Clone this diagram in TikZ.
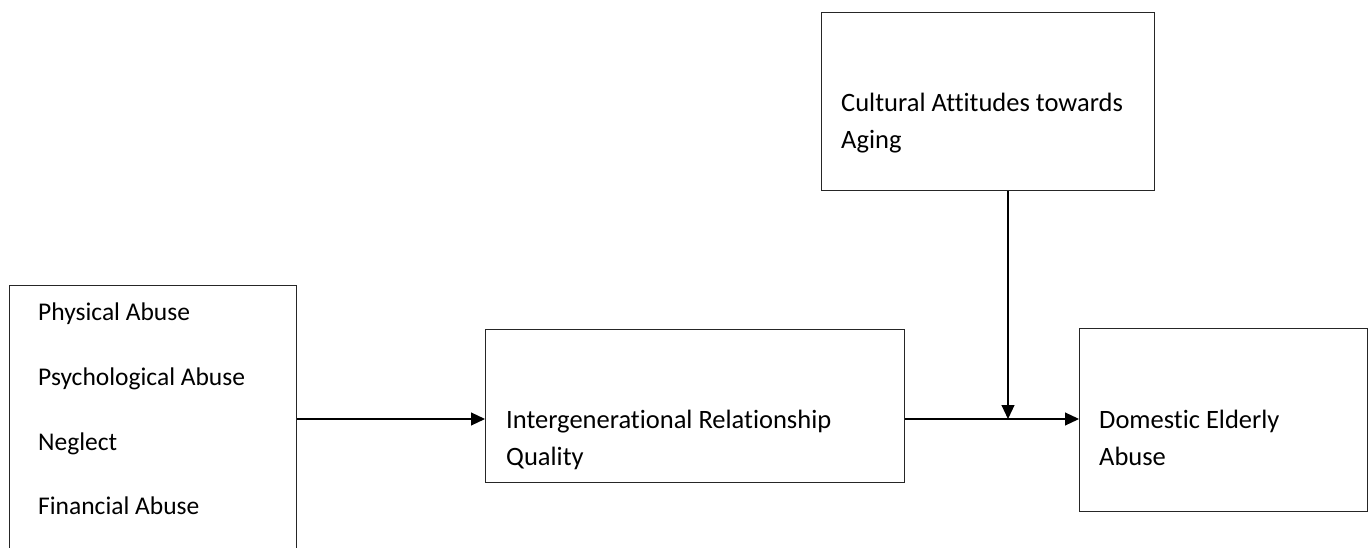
\documentclass[tikz,border=0pt]{standalone}
\usepackage{fontspec}
\setmainfont{Carlito}[Ligatures=NoCommon]
\usetikzlibrary{arrows.meta}
\usetikzlibrary{calc}

\begin{document}
\begin{tikzpicture}[x=1pt,y=-1pt]

\tikzstyle{box} = [draw, line width=1.2, draw=black!85, fill=none, inner sep=0, anchor=north west]
\tikzstyle{txt} = [anchor=base west, inner sep=0, font=\fontsize{26.5}{37}\selectfont, align=left]
\tikzstyle{item} = [txt, font=\fontsize{25.5}{37}\selectfont]
\tikzstyle{arr} = [line width=1.1, -{Triangle[length=14,width=13]}]

\useasboundingbox (0,0) rectangle (1369,548);

% boxes
\node [box, minimum width=287, minimum height=300] (abuse) at (9,285) {};
\node [box, minimum width=419, minimum height=153] (igr) at (485,329) {};
\node [box, minimum width=333, minimum height=178] (cult) at (821,12) {};
\node [box, minimum width=288, minimum height=183] (dea) at (1079,328) {};

% texts (base = last line)
\node [item] (phys) at (38,320) {Physical Abuse};
\node [item] (psych) at (38,385) {Psychological Abuse};
\node [item] (negl) at (38,450) {Neglect};
\node [item] (fin) at (38,514) {Financial Abuse};

\node [txt] (igrtext) at (506,465) {Intergenerational Relationship\\Quality};
\node [txt] (culttext) at (841,149) {Cultural Attitudes towards\\Aging};
\node [txt] (deatext) at (1099,465) {Domestic Elderly\\Abuse};

% arrows
\coordinate (join) at (1008,419);
\draw[arr] (abuse.east |- join) -- (igr.west |- join);
\draw[arr] (igr.east |- join) -- (dea.west |- join);
\draw[arr] (cult.south -| join) -- (join);

\end{tikzpicture}
\end{document}
